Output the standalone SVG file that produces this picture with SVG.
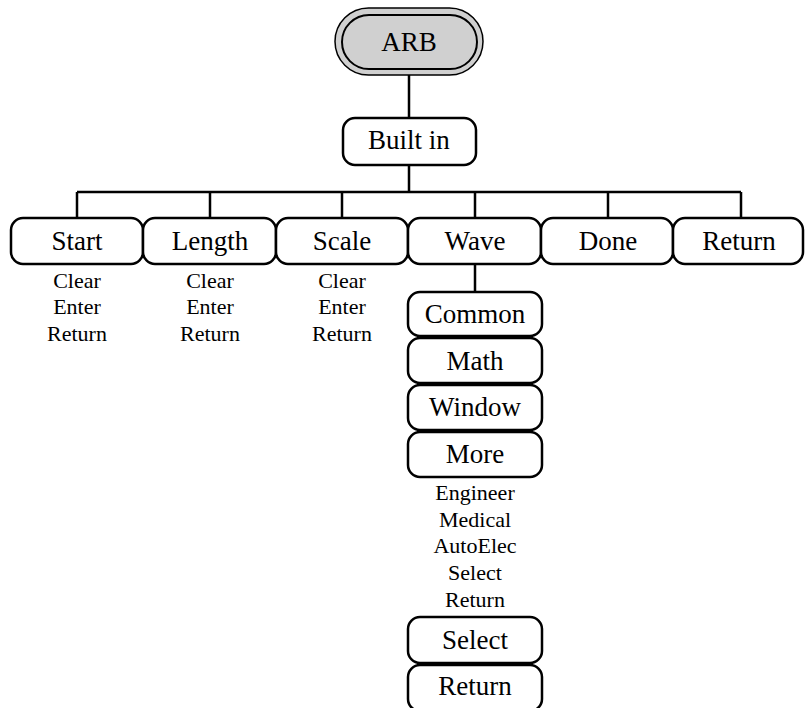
<svg xmlns="http://www.w3.org/2000/svg" width="805" height="708" viewBox="0 0 805 708">
<style>
.box{fill:#fff;stroke:#000;stroke-width:2.5}
.t{font-family:"Liberation Serif",serif;font-size:27px;text-anchor:middle;fill:#000}
.s{font-family:"Liberation Serif",serif;font-size:22px;text-anchor:middle;fill:#000}
.c{fill:none;stroke:#000;stroke-width:2.5}
</style>
<rect width="805" height="708" fill="#fff"/>
<g id="connectors">
<path class="c" d="M409 75V118M409 165V192M77 192H741M77 192V218M210 192V218M342 192V218M475 192V218M608 192V218M741 192V218M475 264V292"/>
</g>
<g id="arb">
<rect x="335" y="8" width="148" height="67" rx="33.5" fill="#d0d0d0" stroke="#000" stroke-width="1.5"/>
<rect x="342" y="15" width="135" height="54" rx="27" fill="#d0d0d0" stroke="#000" stroke-width="2"/>
<text class="t" x="409" y="51">ARB</text>
</g>
<g id="builtin"><rect class="box" x="343" y="118" width="133" height="47" rx="12"/><text class="t" x="409" y="149">Built in</text></g>
<g id="start"><rect class="box" x="11" y="218" width="132" height="46" rx="12"/><text class="t" x="77" y="250">Start</text>
<text class="s" x="77" y="288">Clear</text><text class="s" x="77" y="314">Enter</text><text class="s" x="77" y="341">Return</text></g>
<g id="length"><rect class="box" x="143" y="218" width="133" height="46" rx="12"/><text class="t" x="210" y="250">Length</text>
<text class="s" x="210" y="288">Clear</text><text class="s" x="210" y="314">Enter</text><text class="s" x="210" y="341">Return</text></g>
<g id="scale"><rect class="box" x="276" y="218" width="132" height="46" rx="12"/><text class="t" x="342" y="250">Scale</text>
<text class="s" x="342" y="288">Clear</text><text class="s" x="342" y="314">Enter</text><text class="s" x="342" y="341">Return</text></g>
<g id="wave"><rect class="box" x="408" y="218" width="133" height="46" rx="12"/><text class="t" x="475" y="250">Wave</text></g>
<g id="done"><rect class="box" x="541" y="218" width="132" height="46" rx="12"/><text class="t" x="608" y="250">Done</text></g>
<g id="return"><rect class="box" x="673" y="218" width="130" height="46" rx="12"/><text class="t" x="739" y="250">Return</text></g>
<g id="common"><rect class="box" x="408" y="292" width="134" height="44" rx="12"/><text class="t" x="475" y="323">Common</text></g>
<g id="math"><rect class="box" x="408" y="338" width="134" height="45" rx="12"/><text class="t" x="475" y="370">Math</text></g>
<g id="window"><rect class="box" x="408" y="385" width="134" height="45" rx="12"/><text class="t" x="475" y="416">Window</text></g>
<g id="more"><rect class="box" x="408" y="432" width="134" height="45" rx="12"/><text class="t" x="475" y="463">More</text>
<text class="s" x="475" y="500">Engineer</text><text class="s" x="475" y="527">Medical</text><text class="s" x="475" y="553">AutoElec</text><text class="s" x="475" y="580">Select</text><text class="s" x="475" y="607">Return</text></g>
<g id="select"><rect class="box" x="408" y="617" width="134" height="46" rx="12"/><text class="t" x="475" y="649">Select</text></g>
<g id="return2"><rect class="box" x="408" y="665" width="134" height="46" rx="12"/><text class="t" x="475" y="695">Return</text></g>
</svg>
